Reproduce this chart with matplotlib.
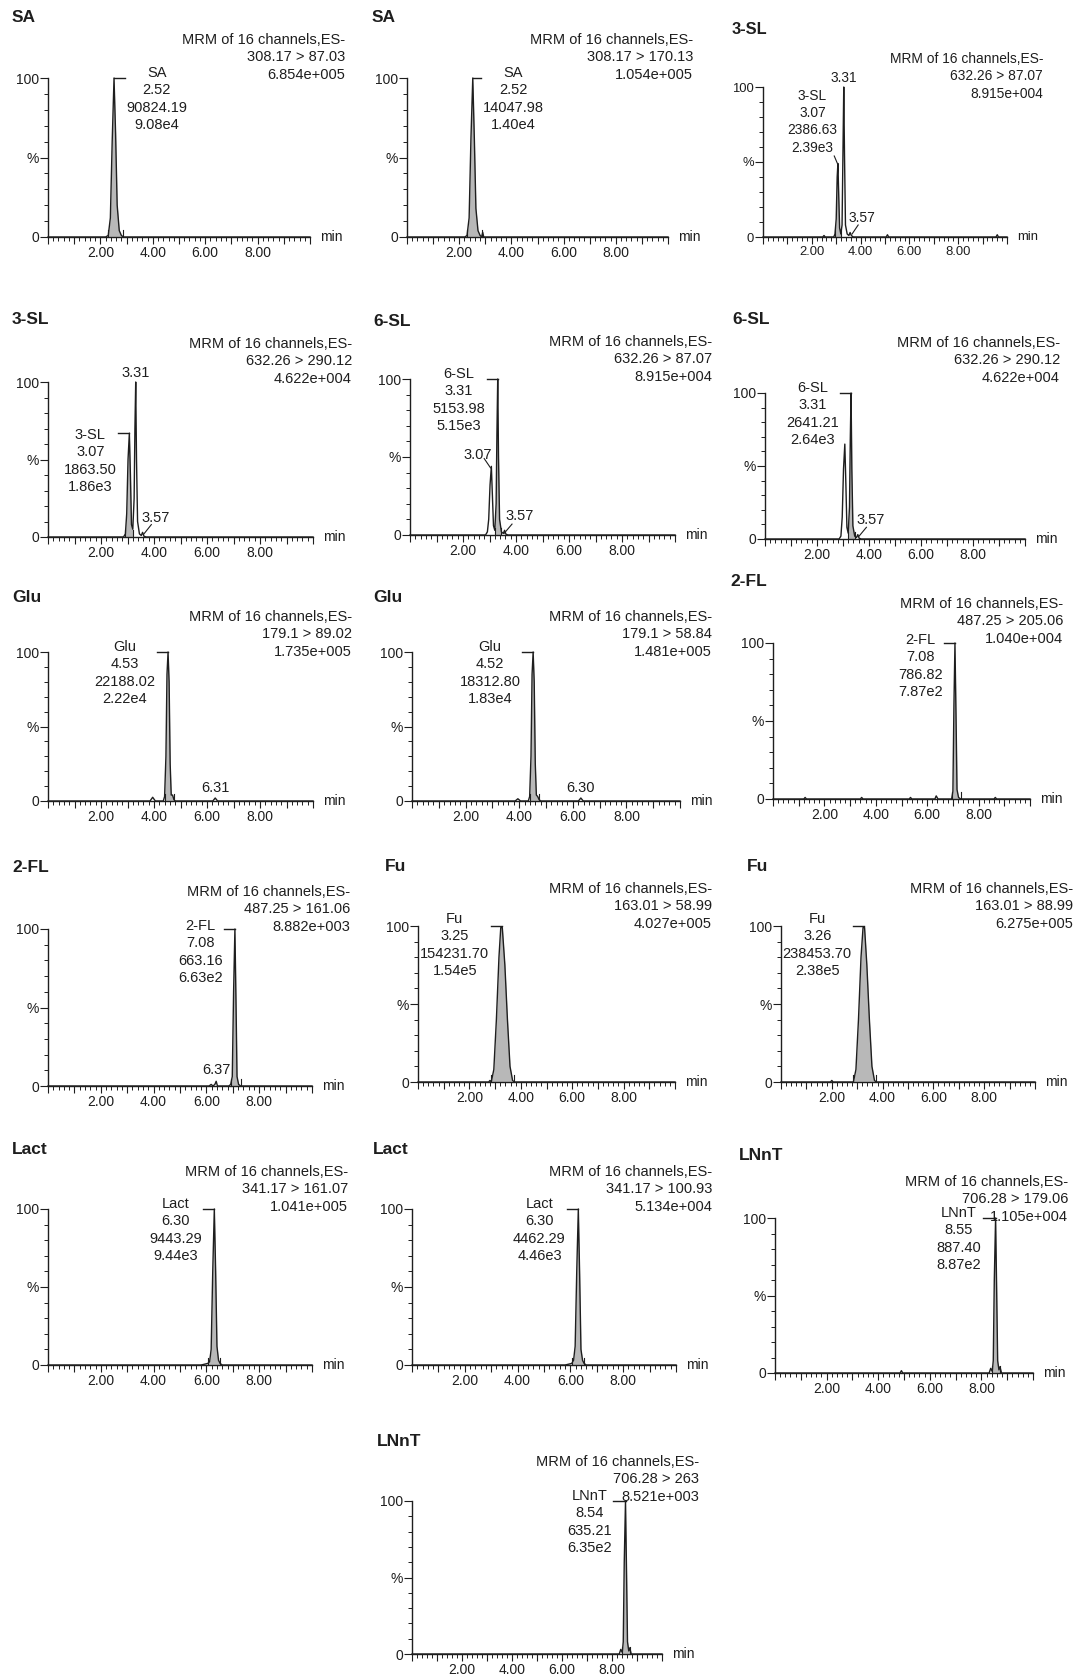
import numpy as np
import matplotlib.pyplot as plt
from matplotlib.ticker import MultipleLocator, FixedLocator, FuncFormatter

plt.rcParams['font.family'] = ['Liberation Sans', 'DejaVu Sans']

# ---- data ----
names = ["SA", "SA", "3-SL", "3-SL", "6-SL", "6-SL", "Glu", "Glu", "2-FL",
         "2-FL", "Fu", "Fu", "Lact", "Lact", "LNnT", "LNnT"]
transitions = ["308.17 > 87.03", "308.17 > 170.13", "632.26 > 87.07", "632.26 > 290.12",
               "632.26 > 87.07", "632.26 > 290.12", "179.1 > 89.02", "179.1 > 58.84",
               "487.25 > 205.06", "487.25 > 161.06", "163.01 > 58.99", "163.01 > 88.99",
               "341.17 > 161.07", "341.17 > 100.93", "706.28 > 179.06", "706.28 > 263"]
max_counts = ["6.854e+005", "1.054e+005", "8.915e+004", "4.622e+004", "8.915e+004",
              "4.622e+004", "1.735e+005", "1.481e+005", "1.040e+004", "8.882e+003",
              "4.027e+005", "6.275e+005", "1.041e+005", "5.134e+004", "1.105e+004",
              "8.521e+003"]
peak_rt = ["2.52", "2.52", "3.07", "3.07", "3.31", "3.31", "4.53", "4.52", "7.08",
           "7.08", "3.25", "3.26", "6.30", "6.30", "8.55", "8.54"]
peak_area = ["90824.19", "14047.98", "2386.63", "1863.50", "5153.98", "2641.21",
             "22188.02", "18312.80", "786.82", "663.16", "154231.70", "238453.70",
             "9443.29", "4462.29", "887.40", "635.21"]
peak_area_sci = ["9.08e4", "1.40e4", "2.39e3", "1.86e3", "5.15e3", "2.64e3", "2.22e4",
                 "1.83e4", "7.87e2", "6.63e2", "1.54e5", "2.38e5", "9.44e3", "4.46e3",
                 "8.87e2", "6.35e2"]
peak_height = [100, 100, 49, 67, 100, 100, 100, 100, 100, 100, 100, 100, 100, 100, 100, 100]

# traces: time (min), relative intensity (%)
sa87_t = [0, 2.20, 2.30, 2.38, 2.45, 2.52, 2.58, 2.64, 2.72, 2.80, 2.88, 10]
sa87_y = [0, 0, 1, 12, 60, 100, 65, 20, 4, 1, 0, 0]
sa170_t = [0, 2.22, 2.30, 2.38, 2.45, 2.52, 2.58, 2.64, 2.72, 2.80, 2.86, 2.90, 2.94, 10]
sa170_y = [0, 0, 1, 12, 62, 100, 62, 18, 4, 1, 0, 3, 0, 0]
sl87a_t = [0, 2.45, 2.50, 2.55, 2.90, 2.95, 3.00, 3.04, 3.07, 3.10, 3.14, 3.19, 3.24,
           3.28, 3.31, 3.34, 3.38, 3.45, 3.52, 3.57, 3.62, 3.70, 5.05, 5.10, 5.15,
           9.55, 9.60, 9.65, 10]
sl87a_y = [0, 0, 1, 0, 0, 2, 12, 40, 49, 30, 6, 2, 8, 60, 100, 55, 8, 2, 1, 3, 1, 0,
           0, 1.5, 0, 0, 1.5, 0, 0]
sl_t = [0, 2.85, 2.92, 2.97, 3.02, 3.07, 3.11, 3.15, 3.20, 3.25, 3.28, 3.31, 3.34,
        3.38, 3.45, 3.52, 3.57, 3.62, 3.70, 10]
sl290a_y = [0, 0, 2, 15, 50, 67, 40, 8, 5, 25, 70, 100, 50, 10, 2, 1, 3, 0.5, 0, 0]
sl87b_y = [0, 0, 2, 10, 32, 44, 25, 6, 3, 20, 65, 100, 50, 10, 2, 1, 3, 0.5, 0, 0]
sl290b_y = [0, 0, 2, 15, 48, 65, 38, 8, 4, 22, 68, 100, 48, 9, 2, 1, 3, 0.5, 0, 0]
glu89_t = [0, 3.85, 3.95, 4.05, 4.35, 4.40, 4.45, 4.49, 4.53, 4.57, 4.61, 4.65, 4.70,
           4.75, 4.80, 6.22, 6.31, 6.40, 10]
glu89_y = [0, 0, 2.5, 0, 0, 3, 30, 85, 100, 80, 25, 4, 4, 1, 0, 0, 2, 0, 0]
glu58_t = [0, 3.85, 3.95, 4.05, 4.34, 4.39, 4.44, 4.48, 4.52, 4.56, 4.60, 4.64, 4.69,
           4.74, 4.80, 6.21, 6.30, 6.39, 10]
glu58_y = [0, 0, 1.5, 0, 0, 3, 30, 85, 100, 80, 25, 4, 3, 1, 0, 0, 2, 0, 0]
fl205_t = [0, 1.20, 1.25, 1.30, 3.40, 3.45, 3.50, 5.30, 5.35, 5.40, 6.30, 6.35, 6.42,
           6.95, 7.00, 7.04, 7.08, 7.12, 7.16, 7.22, 7.30, 8.60, 8.65, 8.70, 10]
fl205_y = [0, 0, 1, 0, 0, 1, 0, 0, 1, 0, 0, 2, 0, 0, 5, 60, 100, 55, 6, 1, 0, 0, 1, 0, 0]
fl161_t = [0, 6.10, 6.18, 6.25, 6.32, 6.37, 6.42, 6.55, 6.85, 6.92, 6.98, 7.03, 7.08,
           7.12, 7.16, 7.22, 7.30, 10]
fl161_y = [0, 0, 1, 0, 1, 3, 0, 0, 0, 1, 6, 60, 100, 55, 6, 1, 0, 0]
fu58_t = [0, 2.75, 2.80, 2.85, 2.95, 3.05, 3.15, 3.22, 3.28, 3.38, 3.48, 3.58, 3.68,
          3.75, 10]
fu58_y = [0, 0, 1, 0, 8, 40, 80, 99, 99, 75, 40, 10, 1, 0, 0]
fu88_t = [0, 1.95, 2.00, 2.05, 2.85, 2.95, 3.05, 3.15, 3.23, 3.29, 3.38, 3.48, 3.58,
          3.68, 3.75, 10]
fu88_y = [0, 0, 1, 0, 0, 8, 40, 80, 99, 99, 75, 40, 10, 1, 0, 0]
lact_t = [0, 5.80, 6.05, 6.12, 6.18, 6.24, 6.30, 6.35, 6.40, 6.46, 6.52, 6.60, 10]
lact161_y = [0, 0, 1, 2, 10, 60, 100, 60, 12, 3, 1, 0, 0]
lact100_y = [0, 0, 1, 3, 12, 60, 100, 58, 10, 3, 1, 0, 0]
lnnt179_t = [0, 4.85, 4.90, 4.95, 8.30, 8.36, 8.42, 8.46, 8.50, 8.55, 8.59, 8.63, 8.68,
             8.72, 8.78, 10]
lnnt179_y = [0, 0, 1.5, 0, 0, 3, 1, 8, 60, 100, 55, 8, 2, 4, 0, 0]
lnnt263_t = [0, 8.29, 8.35, 8.41, 8.45, 8.49, 8.54, 8.58, 8.62, 8.67, 8.71, 8.77, 10]
lnnt263_y = [0, 0, 3, 1, 8, 60, 100, 55, 8, 2, 4, 0, 0]

traces = [(sa87_t, sa87_y), (sa170_t, sa170_y), (sl87a_t, sl87a_y), (sl_t, sl290a_y),
          (sl_t, sl87b_y), (sl_t, sl290b_y), (glu89_t, glu89_y), (glu58_t, glu58_y),
          (fl205_t, fl205_y), (fl161_t, fl161_y), (fu58_t, fu58_y), (fu88_t, fu88_y),
          (lact_t, lact161_y), (lact_t, lact100_y), (lnnt179_t, lnnt179_y),
          (lnnt263_t, lnnt263_y)]
# integration limits of the labelled peak
integ = [(2.30, 2.88), (2.30, 2.86), (2.95, 3.19), (2.92, 3.20), (3.20, 3.45), (3.20, 3.45),
         (4.40, 4.75), (4.39, 4.74), (6.95, 7.30), (6.92, 7.30), (2.85, 3.75), (2.85, 3.75),
         (6.05, 6.52), (6.05, 6.52), (8.42, 8.72), (8.41, 8.71)]
# small retention-time annotations: (text, x, y)
rt_notes = [[], [], [("3.31", 3.31, 101), ("3.57", 4.05, 8)],
            [("3.31", 3.31, 101), ("3.57", 4.05, 8)],
            [("3.07", 2.55, 47), ("3.57", 4.15, 8)], [("3.57", 4.05, 8)],
            [("6.31", 6.31, 4)], [("6.30", 6.30, 4)], [], [("6.37", 6.37, 6)],
            [], [], [], [], [], []]
rt_leaders = [[], [], [((3.65, 3.90), (2, 8))], [((3.62, 3.90), (2, 8))],
              [((2.80, 3.04), (49, 43)), ((3.55, 3.85), (1, 7))], [((3.62, 3.90), (2, 8))],
              [], [], [], [], [], [], [], [], [], []]

# ---- layout (pixels of the 1074 x 1677 picture) ----
W, H = 1074, 1677
# left, right, y of 100 %, y of 0
boxes = [(48, 310, 78, 237), (407, 668, 78, 237), (763, 1007, 87, 237),
         (48, 313, 382, 537), (410, 675, 379, 535), (765, 1025, 393, 539),
         (48, 313, 652, 801), (412, 680, 652, 801), (773, 1030, 643, 799),
         (48, 312, 929, 1086), (418, 675, 926, 1082), (781, 1035, 926, 1082),
         (48, 312, 1209, 1365), (412, 676, 1209, 1365), (775, 1033, 1218, 1373),
         (412, 662, 1501, 1654)]
title_xy = [(12, 17), (372, 17), (732, 30), (12, 320), (373, 322), (732, 320),
            (12, 597), (373, 597), (730, 582), (12, 868), (385, 867), (747, 867),
            (12, 1150), (373, 1150), (739, 1155), (377, 1442)]
mrm_xy = [(345, 33), (693, 33), (1043, 52), (352, 337), (712, 335), (1060, 336),
          (352, 610), (712, 610), (1063, 597), (350, 885), (712, 882), (1073, 882),
          (348, 1165), (712, 1165), (1068, 1175), (699, 1455)]
font_scale = [1, 1, 0.94, 1, 1, 1, 1, 1, 1, 1, 1, 1, 1, 1, 1, 1]
label_side = ['right', 'right', 'diag', 'left', 'left', 'left', 'left', 'left', 'left',
              'left', 'left', 'left', 'left', 'left', 'left', 'left']
conn_len = [0.42, 0.32, 0, 0.42, 0.42, 0.42, 0.42, 0.42, 0.42, 0.42, 0.42, 0.42, 0.42,
            0.42, 0.5, 0.5]
label_dy = [12, 12, 0, 5, 12, 12, 12, 12, 10, 10, 14, 14, 12, 12, 12, 12]

ink = '#1e1e1e'
fig = plt.figure(figsize=(W / 100, H / 100), dpi=100)


def xfmt(v, pos):
    if abs(v - round(v)) < 1e-6 and int(round(v)) in (2, 4, 6, 8):
        return '%.2f' % v
    return ''


for i in range(16):
    L, R, T, B = boxes[i]
    fs = 10.5 * font_scale[i]
    ax = fig.add_axes([L / W, 1 - B / H, (R - L) / W, (B - T) / H])
    t = np.array(traces[i][0], dtype=float)
    y = np.array(traces[i][1], dtype=float)
    a, b = integ[i]
    m = (t >= a) & (t <= b)
    ax.fill_between(t[m], y[m], 0, color='#b8b8b8', lw=0)
    ax.plot(t, y, color=ink, lw=1.0, clip_on=False)
    for xx in (a, b):
        ax.plot([xx, xx], [0, 4.5], color=ink, lw=0.8)

    ax.set_xlim(0, 10)
    ax.set_ylim(0, 100)
    for s in ('top', 'right'):
        ax.spines[s].set_visible(False)
    for s in ('left', 'bottom'):
        ax.spines[s].set_color(ink)
        ax.spines[s].set_linewidth(1.0)
    ax.xaxis.set_major_locator(MultipleLocator(1))
    ax.xaxis.set_minor_locator(MultipleLocator(0.2))
    ax.xaxis.set_major_formatter(FuncFormatter(xfmt))
    ax.yaxis.set_major_locator(FixedLocator([0, 50, 100]))
    ax.yaxis.set_minor_locator(MultipleLocator(10))
    ax.set_yticklabels(['0', '%', '100'])
    ax.tick_params(axis='x', which='major', length=5, width=0.8, color=ink,
                   labelsize=10 * font_scale[i], pad=1.5, labelcolor=ink)
    ax.tick_params(axis='x', which='minor', length=3, width=0.7, color=ink)
    ax.tick_params(axis='y', which='major', length=6, width=0.8, color=ink,
                   labelsize=10 * font_scale[i], pad=0.5, labelcolor=ink)
    ax.tick_params(axis='y', which='minor', length=3, width=0.7, color=ink)
    ax.annotate('min', xy=(1, 0), xycoords='axes fraction', xytext=(7, 0),
                textcoords='offset points', ha='left', va='center',
                fontsize=10 * font_scale[i], color=ink)

    # headers
    tx, ty = title_xy[i]
    fig.text(tx / W, 1 - ty / H, names[i], fontsize=12.5 * font_scale[i], fontweight='bold',
             va='center', color=ink)
    mx, my = mrm_xy[i]
    fig.text(mx / W, 1 - my / H, "MRM of 16 channels,ES-\n%s\n%s" % (transitions[i], max_counts[i]),
             ha='right', va='top', multialignment='right', fontsize=fs, linespacing=1.3,
             color=ink)

    # labelled peak
    lab = "%s\n%s\n%s\n%s" % (names[i], peak_rt[i], peak_area[i], peak_area_sci[i])
    rt = float(peak_rt[i])
    h = peak_height[i]
    side = label_side[i]
    if side == 'diag':
        ax.plot([2.92, 3.05], [54, 49], color=ink, lw=0.8)
        ax.text(3.05, 55, lab, ha='right', va='bottom', multialignment='center',
                fontsize=fs, linespacing=1.3, color=ink, clip_on=False)
    else:
        sgn = 1 if side == 'right' else -1
        xe = rt + sgn * conn_len[i]
        ax.plot([rt, xe], [h, h], color=ink, lw=1.0, clip_on=False)
        ax.annotate(lab, xy=(xe, h), xytext=(sgn * 1, label_dy[i] * 0.72),
                    textcoords='offset points', ha='left' if sgn > 0 else 'right',
                    va='top', multialignment='center', fontsize=fs, linespacing=1.3,
                    color=ink, annotation_clip=False)
    for txt, x0, y0 in rt_notes[i]:
        ax.text(x0, y0, txt, ha='center', va='bottom', fontsize=fs, color=ink,
                clip_on=False)
    for xs, ys in rt_leaders[i]:
        ax.plot(xs, ys, color=ink, lw=0.8)

fig.savefig('out.png', dpi=100, facecolor='white')
